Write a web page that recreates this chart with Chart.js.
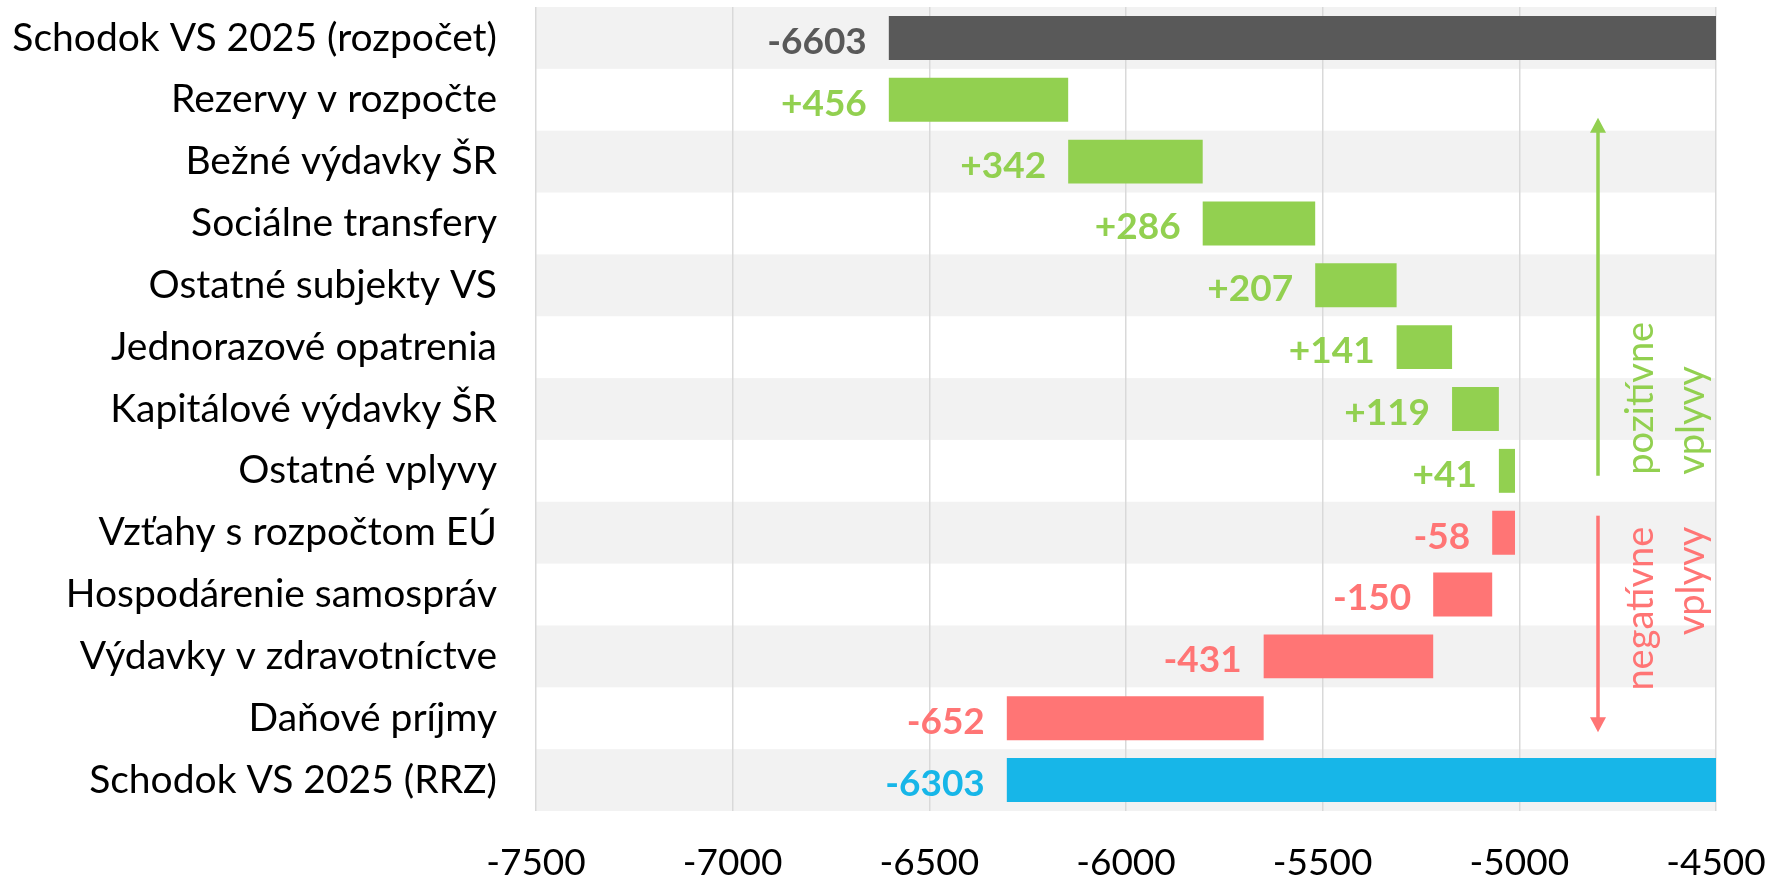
<!DOCTYPE html>
<html>
<head>
<meta charset="utf-8">
<script src="https://cdn.jsdelivr.net/npm/chart.js@4"></script>
<style>
  html,body{margin:0;padding:0;background:#fff;}
  #wrap{width:1770px;height:882px;position:relative;}
</style>
</head>
<body>
<div id="wrap"><canvas id="c" width="1770" height="882"></canvas></div>
<script>
// ---- data ----
const categories = [
  'Schodok VS 2025 (rozpočet)',
  'Rezervy v rozpočte',
  'Bežné výdavky ŠR',
  'Sociálne transfery',
  'Ostatné subjekty VS',
  'Jednorazové opatrenia',
  'Kapitálové výdavky ŠR',
  'Ostatné vplyvy',
  'Vzťahy s rozpočtom EÚ',
  'Hospodárenie samospráv',
  'Výdavky v zdravotníctve',
  'Daňové príjmy',
  'Schodok VS 2025 (RRZ)'
];
const impacts = [-6603, 456, 342, 286, 207, 141, 119, 41, -58, -150, -431, -652, -6303];
const barStart = [-6603, -6603, -6147, -5805, -5519, -5312, -5171, -5052, -5011, -5069, -5219, -5650, -6303];
const barEnd   = [0, -6147, -5805, -5519, -5312, -5171, -5052, -5011, -5069, -5219, -5650, -6303, 0];
const barKind  = ['start','pos','pos','pos','pos','pos','pos','pos','neg','neg','neg','neg','end'];
const xTicks = [-7500, -7000, -6500, -6000, -5500, -5000, -4500];
const annotationTexts = { pos: ['pozitívne', 'vplyvy'], neg: ['negatívne', 'vplyvy'] };

// ---- styles ----
const COLORS = { start: '#595959', pos: '#92d050', neg: '#ff7575', end: '#17b6e8' };
const FONT = 'Lato, "Open Sans", sans-serif';
const FS_CAT = 39, FS_TICK = 37, FS_VAL = 37, FS_NOTE = 38;

function noPad(s) { s.paddingTop = 0; s.paddingBottom = 0; s.paddingLeft = 0; s.paddingRight = 0; }

const bandPlugin = {
  id: 'bands',
  beforeDraw(chart) {
    const {ctx, chartArea: a, scales: {y}} = chart;
    const h = (a.bottom - a.top) / categories.length;
    ctx.save();
    categories.forEach((c, i) => {
      if (i % 2 === 0) {
        const cy = y.getPixelForValue(i);
        ctx.fillStyle = '#f2f2f2';
        ctx.fillRect(a.left, cy - h / 2, a.right - a.left, h);
      }
    });
    ctx.restore();
  }
};

const labelPlugin = {
  id: 'vlabels',
  afterDatasetsDraw(chart) {
    const {ctx} = chart;
    const meta = chart.getDatasetMeta(0);
    ctx.save();
    ctx.font = 'bold ' + FS_VAL + 'px ' + FONT;
    ctx.textAlign = 'right';
    ctx.textBaseline = 'middle';
    meta.data.forEach((el, i) => {
      const left = Math.min(el.x, el.base);
      const v = impacts[i];
      const txt = (barKind[i] === 'pos' ? '+' : '') + v;
      ctx.fillStyle = COLORS[barKind[i]];
      ctx.fillText(txt, left - 22, el.y + 4);
    });
    ctx.restore();
  }
};

const arrowPlugin = {
  id: 'arrows',
  afterDraw(chart) {
    const {ctx, scales: {x, y}} = chart;
    const ax = x.getPixelForValue(-4800);
    function arrow(x0, yFrom, yTo, color) {
      const dir = yTo < yFrom ? -1 : 1;
      ctx.save();
      ctx.strokeStyle = color; ctx.fillStyle = color; ctx.lineWidth = 3.5;
      ctx.beginPath(); ctx.moveTo(x0, yFrom); ctx.lineTo(x0, yTo - dir * 12); ctx.stroke();
      ctx.beginPath();
      ctx.moveTo(x0, yTo); ctx.lineTo(x0 - 8, yTo - dir * 15); ctx.lineTo(x0 + 8, yTo - dir * 15);
      ctx.closePath(); ctx.fill();
      ctx.restore();
    }
    const posTop = y.getPixelForValue(1) + 18, posBot = y.getPixelForValue(7) + 5;
    const negTop = y.getPixelForValue(8) - 17, negBot = y.getPixelForValue(11) + 14;
    arrow(ax, posBot, posTop, COLORS.pos);
    arrow(ax, negTop, negBot, COLORS.neg);

    function vtext(lines, xc, yAnchor, align, color) {
      ctx.save();
      ctx.font = FS_NOTE + 'px ' + FONT;
      ctx.fillStyle = color;
      ctx.textBaseline = 'middle';
      lines.forEach((t, k) => {
        ctx.save();
        ctx.translate(xc + k * 51, yAnchor);
        ctx.rotate(-Math.PI / 2);
        ctx.textAlign = align;
        ctx.fillText(t, 0, 0);
        ctx.restore();
      });
      ctx.restore();
    }
    vtext(annotationTexts.pos, ax + 43, posBot - 1, 'left', COLORS.pos);
    vtext(annotationTexts.neg, ax + 43, negTop + 11, 'right', COLORS.neg);
  }
};

new Chart(document.getElementById('c'), {
  type: 'bar',
  data: {
    labels: categories,
    datasets: [{
      data: barStart.map((s, i) => [s, barEnd[i]]),
      backgroundColor: barKind.map(k => COLORS[k]),
      borderWidth: 0,
      borderSkipped: false,
      barPercentage: 0.71,
      categoryPercentage: 1.0
    }]
  },
  options: {
    indexAxis: 'y',
    responsive: false,
    animation: false,
    devicePixelRatio: 1,
    layout: { padding: { top: 7, right: 54, left: 0, bottom: 0 } },
    plugins: { legend: { display: false }, tooltip: { enabled: false } },
    scales: {
      x: {
        min: -7500, max: -4500,
        afterBuildTicks: s => { s.ticks = xTicks.map(v => ({ value: v })); },
        afterFit: s => { s.height = 71; noPad(s); },
        grid: { color: '#d9d9d9', lineWidth: 1.5, drawTicks: false },
        border: { display: false },
        ticks: { color: '#000', font: { family: FONT, size: FS_TICK }, padding: 30, maxRotation: 0,
                 callback: v => String(v) }
      },
      y: {
        afterFit: s => { s.width = 536; noPad(s); },
        grid: { display: false, drawTicks: false },
        border: { display: false },
        ticks: { color: '#000', font: { family: FONT, size: FS_CAT }, padding: 39, autoSkip: false }
      }
    }
  },
  plugins: [bandPlugin, labelPlugin, arrowPlugin]
});
</script>
</body>
</html>
